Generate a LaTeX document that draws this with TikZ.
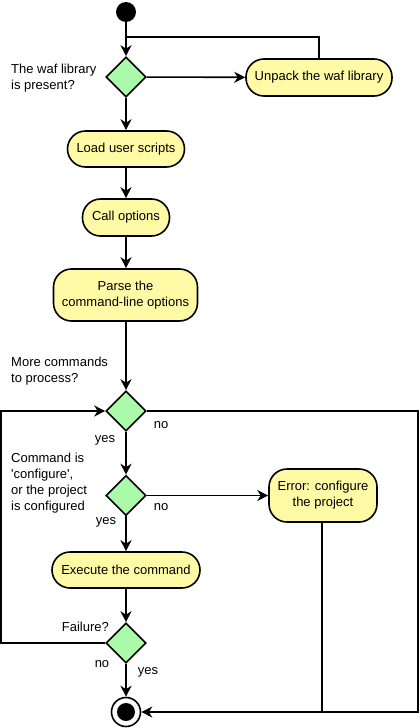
\documentclass[tikz,border=0pt]{standalone}
\usepackage{fontspec}
\setmainfont{Liberation Sans}[Ligatures=TeXOff]
\usetikzlibrary{shapes.geometric,arrows.meta,calc}
\definecolor{actfill}{RGB}{255,250,165}
\definecolor{decfill}{RGB}{170,250,170}
\begin{document}
\begin{tikzpicture}[x=1pt,y=-1pt,
  font=\fontsize{13}{16}\selectfont,
  line/.style={line width=1.6pt,black},
  arr/.style={line,-{Stealth[length=11pt,width=11pt,inset=3.5pt]}},
  act/.style={draw,line width=1.6pt,fill=actfill,rectangle,inner sep=0pt,align=center},
  dec/.style={draw,line width=1.6pt,fill=decfill,diamond,inner sep=0pt,minimum width=40pt,minimum height=40pt},
  lbl/.style={inner sep=0pt,align=left}]
\useasboundingbox (0,0) rectangle (420,728);
% start
\node[circle,fill=black,minimum size=20pt,inner sep=0pt] (start) at (126,12) {};
\coordinate (j1) at (126,37);
\coordinate (j2) at (319,37);
\node[dec] (d1) at (126,77) {};
\node[act,minimum width=146pt,minimum height=37pt,rounded corners=18pt] (unpack) at (319,77.5) {Unpack the waf library};
\node[act,minimum width=117pt,minimum height=36pt,rounded corners=18pt] (load) at (126,149) {Load user scripts};
\node[act,minimum width=87pt,minimum height=37pt,rounded corners=18pt] (call) at (126,217.5) {Call options};
\node[act,minimum width=144pt,minimum height=52pt,rounded corners=18pt] (parse) at (125.5,295) {Parse the\\command-line options};
\node[dec] (d2) at (126,411) {};
\node[dec] (d3) at (126,495.5) {};
\node[act,minimum width=108pt,minimum height=53pt,rounded corners=18pt] (err) at (323,495.5) {Error: configure\\the project};
\node[act,minimum width=148pt,minimum height=36pt,rounded corners=18pt] (exec) at (126,570) {Execute the command};
\node[dec] (d4) at (126,643) {};
\node[circle,draw,line width=1.6pt,fill=white,minimum size=29pt,inner sep=0pt] (end) at (126,712) {};
\node[circle,fill=black,minimum size=18pt,inner sep=0pt] (endin) at (126,712) {};
% corner coordinates
\coordinate (l1) at (1,411);
\coordinate (l2) at (1,643);
\coordinate (r1) at (418,411);
\coordinate (r2) at (418,712);
\coordinate (e1) at (322,712);
% connectors
\draw[arr] (start) -- (d1);
\draw[line] (unpack.north -| j2) -- (j2) -- (j1);
\draw[arr] (d1) -- (unpack);
\draw[arr] (d1) -- (load);
\draw[arr] (load) -- (call);
\draw[arr] (call) -- (parse.north -| call);
\draw[arr] (parse.south -| d2) -- (d2);
\draw[arr] (d2) -- (d3);
\draw[arr] (d3) -- (err);
\draw[arr] (d3) -- (exec);
\draw[arr] (exec) -- (d4);
\draw[arr] (d4) -- (end);
\draw[arr] (d4.west) -- (l2) -- (l1) -- (d2.west);
\draw[arr] (d2.east) -- (r1) -- (r2) -- (end.east);
\draw[line] (err.south -| e1) -- (e1);
% labels
\node[lbl,anchor=west] (t1) at (11,78) {The waf library\\is present?};
\node[lbl,anchor=west] (t2) at (11,371) {More commands\\to process?};
\node[lbl] (n2) at (161,425) {no};
\node[lbl] (y2) at (105,440) {yes};
\node[lbl,anchor=west] (t3) at (11,483.5) {Command is\\'configure',\\or the project\\is configured};
\node[lbl] (n3) at (161,507) {no};
\node[lbl] (y3) at (106,522) {yes};
\node[lbl,anchor=east] (t4) at (109,627) {Failure?};
\node[lbl] (n4) at (102,664) {no};
\node[lbl] (y4) at (148,672) {yes};
\end{tikzpicture}
\end{document}
